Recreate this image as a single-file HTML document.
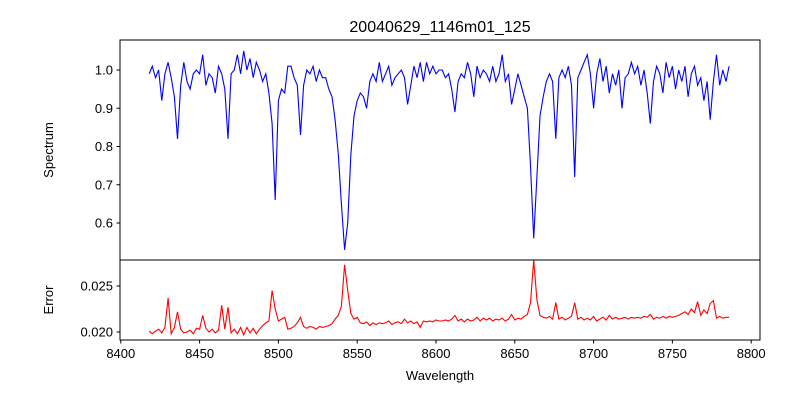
<!DOCTYPE html>
<html><head><meta charset="utf-8"><style>
body{margin:0;background:#fff;}
svg text{font-family:"Liberation Sans","DejaVu Sans",sans-serif;fill:#000;}
</style></head><body>
<svg id="chart" width="800" height="400" viewBox="0 0 800 400" xmlns="http://www.w3.org/2000/svg">
<rect width="800" height="400" fill="#fff"/>
<text x="440" y="32" font-size="16" text-anchor="middle">20040629_1146m01_125</text>
<g id="top"></g><g id="bot"></g>
<rect x="120" y="40" width="640" height="220" fill="none" stroke="#000" stroke-width="1"/>
<rect x="120" y="260" width="640" height="80" fill="none" stroke="#000" stroke-width="1"/>
<text transform="translate(53,150) rotate(-90)" font-size="13" text-anchor="middle">Spectrum</text>
<text transform="translate(53,300) rotate(-90)" font-size="13" text-anchor="middle">Error</text>
<text x="440" y="380" font-size="13" text-anchor="middle">Wavelength</text>
<g id="ticks"></g>
</svg>
<script>
const waveStart = 8418;
const waveStep = 2;
const flux = [
0.99,1.01,0.98,1.00,0.92,0.99,1.02,0.98,0.93,0.82,
0.96,1.02,0.97,0.95,0.99,1.00,0.99,1.04,0.96,0.99,
0.98,0.94,1.01,0.99,0.95,0.82,0.99,1.00,1.04,0.99,
1.05,1.00,1.03,0.98,1.02,1.00,0.97,0.99,0.94,0.86,
0.66,0.92,0.95,0.94,1.01,1.01,0.98,0.96,0.83,0.96,
1.00,0.99,1.01,0.97,1.00,0.98,0.98,0.95,0.93,0.87,
0.78,0.65,0.53,0.60,0.78,0.88,0.92,0.94,0.93,0.90,
0.97,0.99,0.97,1.02,0.97,0.99,1.01,0.96,0.98,0.99,
1.00,0.98,0.91,0.96,1.01,0.98,1.02,0.97,1.02,0.99,
1.01,0.99,1.00,1.00,0.98,0.99,0.95,0.89,0.97,0.99,
0.98,1.02,0.99,0.93,1.01,0.98,1.00,0.99,0.97,1.01,
0.97,0.99,1.04,0.97,0.99,0.91,0.95,0.99,0.96,0.93,
0.90,0.75,0.56,0.72,0.88,0.93,0.97,0.99,0.97,0.82,
0.98,1.00,0.98,1.01,0.96,0.72,0.98,1.00,1.02,1.04,
0.99,0.90,0.99,1.03,0.97,1.01,0.94,0.99,0.96,1.00,
0.90,0.98,0.99,1.02,0.99,1.01,0.96,1.00,0.94,0.86,
0.97,1.01,0.99,0.94,1.02,0.98,1.01,0.95,1.00,0.97,
1.01,0.93,0.99,1.01,0.96,0.98,0.92,0.97,0.87,0.97,
1.04,0.96,1.00,0.97,1.01];
const errors = [
.0201,.0198,.0201,.0203,.0199,.0205,.0237,.0198,.0205,.0222,
.0203,.0199,.0200,.0202,.0198,.0204,.0203,.0218,.0204,.0200,
.0203,.0199,.0202,.0229,.0203,.0227,.0199,.0203,.0198,.0205,
.0197,.0205,.0199,.0204,.0198,.0203,.0207,.0210,.0212,.0245,
.0225,.0212,.0214,.0216,.0203,.0204,.0206,.0210,.0216,.0206,
.0204,.0206,.0205,.0203,.0206,.0205,.0206,.0207,.0209,.0214,
.0218,.0228,.0273,.0245,.0220,.0214,.0216,.0210,.0209,.0211,
.0207,.0210,.0208,.0210,.0209,.0210,.0212,.0208,.0210,.0211,
.0209,.0214,.0210,.0212,.0209,.0211,.0205,.0212,.0211,.0212,
.0211,.0213,.0212,.0212,.0213,.0212,.0214,.0218,.0212,.0214,
.0211,.0214,.0212,.0213,.0216,.0212,.0215,.0213,.0215,.0212,
.0214,.0213,.0215,.0212,.0214,.0219,.0213,.0215,.0214,.0217,
.0219,.0232,.0278,.0235,.0218,.0216,.0215,.0217,.0214,.0232,
.0214,.0216,.0213,.0215,.0217,.0232,.0214,.0216,.0213,.0215,
.0213,.0217,.0212,.0214,.0216,.0213,.0218,.0214,.0216,.0214,
.0215,.0216,.0214,.0216,.0215,.0216,.0215,.0217,.0216,.0219,
.0214,.0216,.0215,.0217,.0215,.0217,.0216,.0217,.0218,.0220,
.0222,.0219,.0225,.0221,.0233,.0218,.0224,.0220,.0231,.0234,
.0215,.0217,.0215,.0216,.0216];
const xTicks = [8400,8450,8500,8550,8600,8650,8700,8750,8800];
const fluxTicks = [0.6,0.7,0.8,0.9,1.0];
const fluxTickLabels = ["0.6","0.7","0.8","0.9","1.0"];
const errTicks = [0.020,0.025];
const errTickLabels = ["0.020","0.025"];

const NS="http://www.w3.org/2000/svg";
const xS = w => 120 + (w - 8399.5) * 1.576;
const yTop = v => 70 + (1 - v) * 382.5;
const yBot = e => 332 - (e - 0.020) * 9200;

function mk(tag, parent){const el=document.createElementNS(NS,tag);document.getElementById(parent).appendChild(el);return el;}

let d1="", d2="";
flux.forEach((v,i)=>{const w=waveStart+i*waveStep;d1+=(i?"L":"M")+xS(w).toFixed(1)+","+yTop(v).toFixed(1);});
errors.forEach((v,i)=>{const w=waveStart+i*waveStep;d2+=(i?"L":"M")+xS(w).toFixed(1)+","+yBot(v).toFixed(1);});
const p1=mk("path","top");


p1.setAttribute("d",d1);p1.setAttribute("fill","none");p1.setAttribute("stroke","#0000ff");p1.setAttribute("stroke-width","1.1");
const p2=mk("path","bot");


p2.setAttribute("d",d2);p2.setAttribute("fill","none");p2.setAttribute("stroke","#ff0000");p2.setAttribute("stroke-width","1.1");

xTicks.forEach(t=>{const x=xS(t);
const l=mk("line","ticks");


l.setAttribute("x1",x);l.setAttribute("x2",x);l.setAttribute("y1",340);l.setAttribute("y2",343.5);l.setAttribute("stroke","#000");
const tx=mk("text","ticks");


tx.setAttribute("x",x);tx.setAttribute("y",358);tx.setAttribute("font-size","13");tx.setAttribute("text-anchor","middle");tx.textContent=t;});
fluxTicks.forEach((t,i)=>{const y=yTop(t);
const l=mk("line","ticks");


l.setAttribute("x1",116.5);l.setAttribute("x2",120);l.setAttribute("y1",y);l.setAttribute("y2",y);l.setAttribute("stroke","#000");
const tx=mk("text","ticks");


tx.setAttribute("x",113);tx.setAttribute("y",y+4.5);tx.setAttribute("font-size","13");tx.setAttribute("text-anchor","end");tx.textContent=fluxTickLabels[i];});
errTicks.forEach((t,i)=>{const y=yBot(t);
const l=mk("line","ticks");


l.setAttribute("x1",116.5);l.setAttribute("x2",120);l.setAttribute("y1",y);l.setAttribute("y2",y);l.setAttribute("stroke","#000");
const tx=mk("text","ticks");


tx.setAttribute("x",113);tx.setAttribute("y",y+4.5);tx.setAttribute("font-size","13");tx.setAttribute("text-anchor","end");tx.textContent=errTickLabels[i];});
</script>
</body></html>
